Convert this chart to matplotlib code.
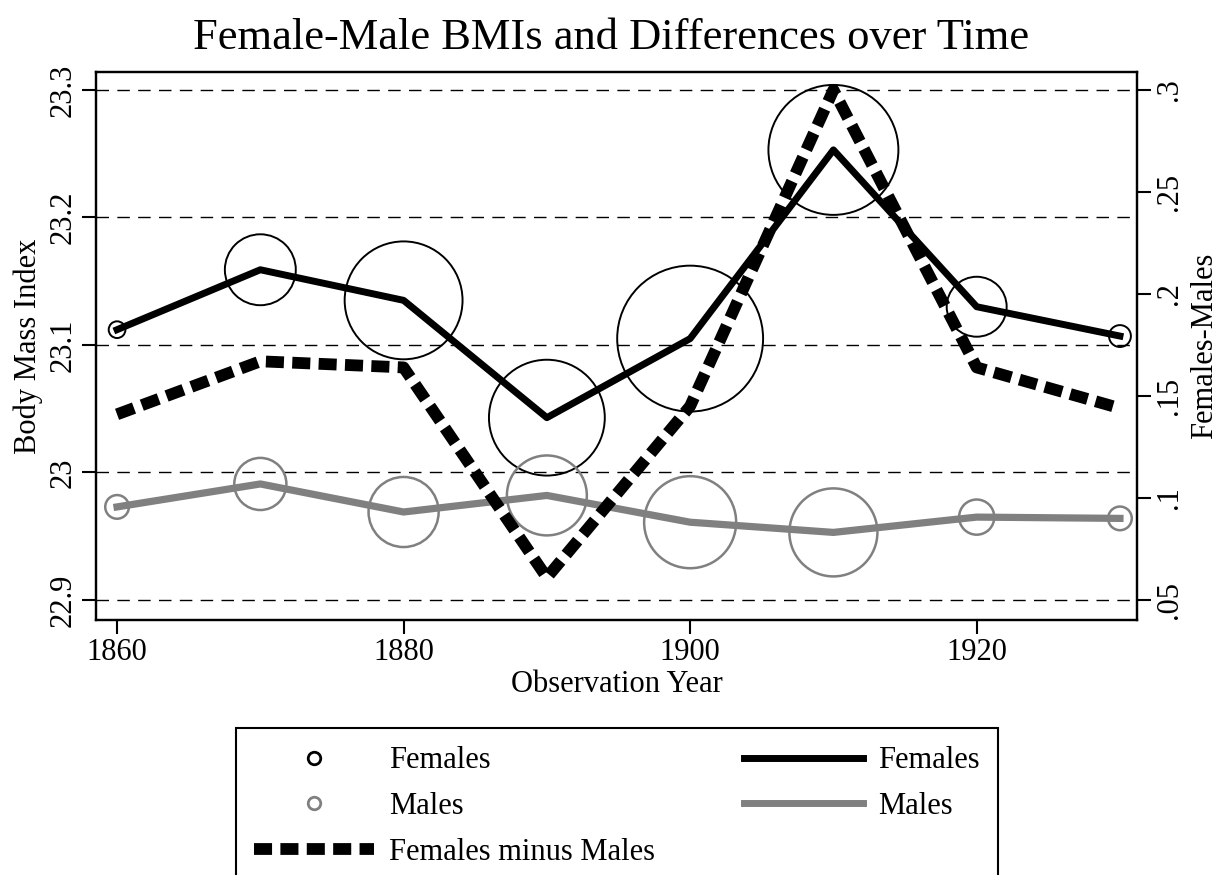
import numpy as np
import matplotlib.pyplot as plt
from matplotlib.lines import Line2D

plt.rcParams['font.family'] = ['Liberation Serif', 'DejaVu Serif']
plt.rcParams['lines.scale_dashes'] = False

years = [1860, 1870, 1880, 1890, 1900, 1910, 1920, 1930]
female_bmi = [23.112, 23.159, 23.135, 23.043, 23.105, 23.253, 23.130, 23.107]
male_bmi = [22.973, 22.991, 22.969, 22.982, 22.961, 22.953, 22.965, 22.964]
# females minus males (right axis)
diff_bmi = [0.141, 0.167, 0.164, 0.061, 0.145, 0.300, 0.164, 0.144]
# relative sample weights, shown as marker area
female_w = [7, 126, 348, 336, 533, 423, 90, 12]
male_w = [14, 68, 123, 160, 212, 194, 31, 14]

left_ticks = [22.9, 23.0, 23.1, 23.2, 23.3]
left_labels = ['22.9', '23', '23.1', '23.2', '23.3']
right_ticks = [0.05, 0.10, 0.15, 0.20, 0.25, 0.30]
right_labels = ['.05', '.1', '.15', '.2', '.25', '.3']
x_ticks = [1860, 1880, 1900, 1920]

grey = '#808080'
fs = 22

fig = plt.figure(figsize=(12.23, 8.75), dpi=100)
ax = fig.add_axes([96/1223, 1-620/875, (1137-96)/1223, (620-72)/875])
ax2 = ax.twinx()

ax.set_xlim(1858.53, 1931.19)
ax.set_ylim(22.8843, 23.3141)
ax2.set_ylim(0.0402, 0.3088)

ax.grid(axis='y', color='black', lw=1.0, linestyle=(0, (9, 6)))
ax.set_axisbelow(True)

ax.scatter(years, female_bmi, s=np.array(female_w) * 20.7, facecolors='none',
           edgecolors='black', linewidths=1.4, zorder=2)
ax.scatter(years, male_bmi, s=np.array(male_w) * 20.7, facecolors='none',
           edgecolors=grey, linewidths=1.8, zorder=2)
ax.plot(years, female_bmi, color='black', lw=5, zorder=3)
ax.plot(years, male_bmi, color=grey, lw=5.2, zorder=3)
ax2.plot(years, diff_bmi, color='black', lw=8.5, dashes=(13, 6))

ax.set_xticks(x_ticks)
ax.set_yticks(left_ticks)
ax.set_yticklabels(left_labels, rotation=90, va='center')
ax2.set_yticks(right_ticks)
ax2.set_yticklabels(right_labels, rotation=90, va='center')

for a in (ax, ax2):
    for sp in a.spines.values():
        sp.set_linewidth(1.6)
    a.tick_params(labelsize=fs, length=10, width=1.5, pad=3)

ax.set_xlabel('Observation Year', fontsize=fs, labelpad=2)
ax.set_ylabel('Body Mass Index', fontsize=fs, labelpad=4)
ax2.set_ylabel('Females-Males', fontsize=fs, labelpad=4)

fig.text(0.5, 1-38/875, 'Female-Male BMIs and Differences over Time',
         ha='center', va='center', fontsize=32)

h_fo = Line2D([], [], ls='none', marker='o', ms=9, mfc='none', mec='black', mew=2)
h_mo = Line2D([], [], ls='none', marker='o', ms=9, mfc='none', mec=grey, mew=2)
h_d = Line2D([], [], color='black', lw=8.5, dashes=(13, 6))
h_fl = Line2D([], [], color='black', lw=5)
h_ml = Line2D([], [], color=grey, lw=5)

leg = fig.legend(handles=[h_fo, h_mo, h_d, h_fl, h_ml],
                 labels=['Females', 'Males', 'Females minus Males', 'Females', 'Males'],
                 ncol=2, loc='upper left',
                 bbox_to_anchor=(236/1223, 0, 762/1223, 1-728/875), mode='expand',
                 fontsize=fs, handlelength=3.9, handletextpad=0.5,
                 labelspacing=0.55, borderpad=0.6, borderaxespad=0,
                 fancybox=False, edgecolor='black', framealpha=1)
leg.get_frame().set_linewidth(1.5)

fig.savefig('out.png', dpi=100)
